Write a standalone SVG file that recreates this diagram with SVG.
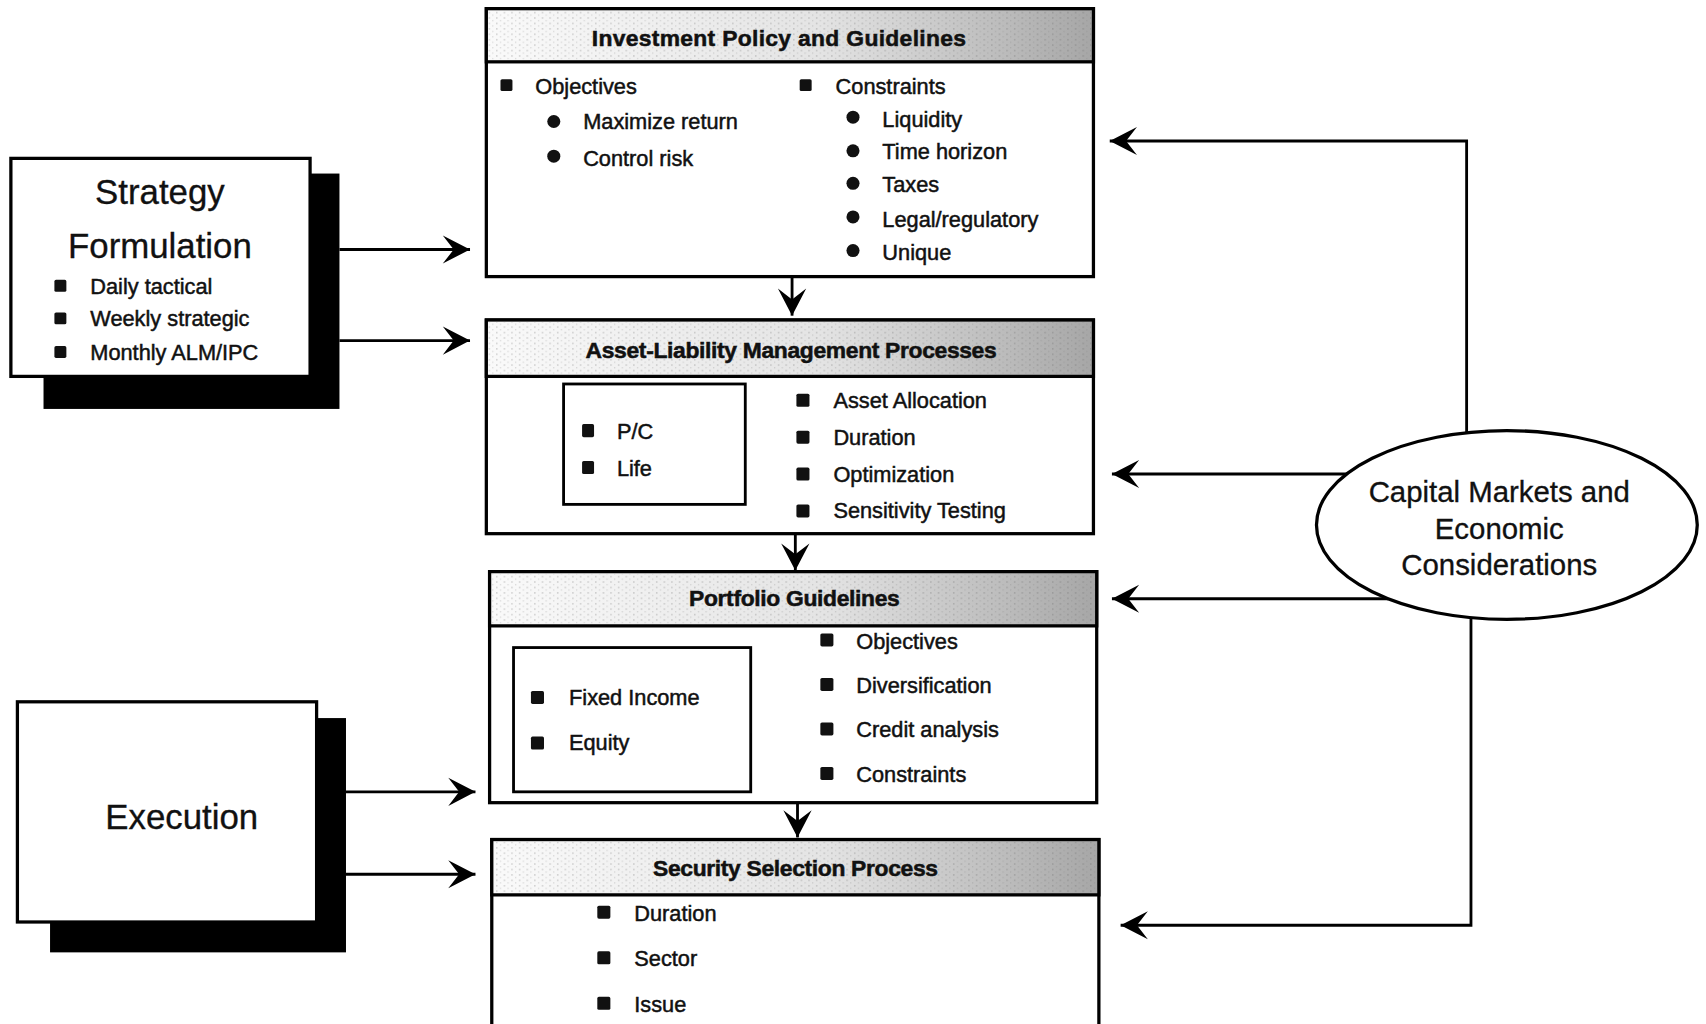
<svg xmlns="http://www.w3.org/2000/svg" width="1706" height="1024" viewBox="0 0 1706 1024">
<style>
.box{fill:#fff;stroke:#000;stroke-width:3}
.shadow{fill:#000}
.hdr{fill:url(#hg);stroke:#000;stroke-width:3}
.hdrdots{fill:url(#dots)}
.t{font-family:"Liberation Sans",Arial,sans-serif;font-size:20px;fill:#111;stroke:#111;stroke-width:0.45;dominant-baseline:central}
.big{font-family:"Liberation Sans",Arial,sans-serif;font-size:32px;fill:#111;stroke:#111;stroke-width:0.3;dominant-baseline:central;text-anchor:middle}
.ht{font-family:"Liberation Sans",Arial,sans-serif;font-size:21px;font-weight:bold;fill:#111;stroke:#111;stroke-width:0.5;dominant-baseline:central;text-anchor:middle;letter-spacing:-0.3px}
.cap{font-family:"Liberation Sans",Arial,sans-serif;font-size:27px;fill:#111;stroke:#111;stroke-width:0.3;dominant-baseline:central;text-anchor:middle}
.sq{fill:#111}
.dot{fill:#111}
.conn{fill:none;stroke:#000;stroke-width:2.6}
</style>
<defs>
<linearGradient id="hg" x1="0" y1="0" x2="1" y2="0">
<stop offset="0" stop-color="#fafafa"/>
<stop offset="0.55" stop-color="#e4e4e4"/>
<stop offset="0.85" stop-color="#bcbcbc"/>
<stop offset="1" stop-color="#a6a6a6"/>
</linearGradient>
<pattern id="dots" width="7" height="5" patternUnits="userSpaceOnUse">
<rect x="1" y="1" width="1.2" height="1.2" fill="#555"/>
<rect x="4.5" y="3.5" width="1" height="1" fill="#777"/>
</pattern>
<marker id="ah" viewBox="-26 -14 28 28" refX="0" refY="0" markerWidth="28" markerHeight="28" markerUnits="userSpaceOnUse" orient="auto">
<path d="M0,0 L-25,-13 L-15,0 L-25,13 Z" fill="#000"/>
</marker>
</defs>
<g transform="scale(1.088,1.0847)">
<g id="connectors">
<path id="c-strat-ipg" class="conn" d="M312,230 H432" marker-end="url(#ah)"/>
<path id="c-strat-alm" class="conn" d="M312,314 H432" marker-end="url(#ah)"/>
<path id="c-exec-pg" class="conn" d="M318,730 H437" marker-end="url(#ah)"/>
<path id="c-exec-ssp" class="conn" d="M318,806 H437" marker-end="url(#ah)"/>
<path id="c-ipg-alm" class="conn" d="M728,256 V291" marker-end="url(#ah)"/>
<path id="c-alm-pg" class="conn" d="M731,493 V526" marker-end="url(#ah)"/>
<path id="c-pg-ssp" class="conn" d="M733,741 V772" marker-end="url(#ah)"/>
<path id="c-cap-ipg" class="conn" d="M1348,400 V130 H1020" marker-end="url(#ah)"/>
<path id="c-cap-alm" class="conn" d="M1240,437 H1022" marker-end="url(#ah)"/>
<path id="c-cap-pg" class="conn" d="M1276,552 H1022" marker-end="url(#ah)"/>
<path id="c-cap-ssp" class="conn" d="M1352,570 V853 H1030" marker-end="url(#ah)"/>
</g>

<g id="strategy">
<rect class="shadow" x="40" y="160" width="272" height="217"/>
<rect class="box" x="10" y="146" width="275" height="201"/>
<text class="big" x="147" y="177">Strategy</text>
<text class="big" x="147" y="227">Formulation</text>
<rect class="sq" x="50" y="258" width="11" height="11" rx="1.5"/>
<text class="t" x="83" y="264">Daily tactical</text>
<rect class="sq" x="50" y="288" width="11" height="11" rx="1.5"/>
<text class="t" x="83" y="294">Weekly strategic</text>
<rect class="sq" x="50" y="319" width="11" height="11" rx="1.5"/>
<text class="t" x="83" y="325">Monthly ALM/IPC</text>
</g>

<g id="execution">
<rect class="shadow" x="46" y="662" width="272" height="216"/>
<rect class="box" x="16" y="647" width="275" height="203"/>
<text class="big" x="167" y="753">Execution</text>
</g>

<g id="ipg">
<rect class="box" x="447" y="8" width="558" height="247"/>
<rect class="hdr" x="447" y="8" width="558" height="49"/>
<rect class="hdrdots" x="449" y="10" width="554" height="45" opacity="0.35"/>
<text class="ht" x="716" y="35" style="letter-spacing:0.3px">Investment Policy and Guidelines</text>
<rect class="sq" x="460" y="73" width="11" height="11" rx="1.5"/>
<text class="t" x="492" y="80">Objectives</text>
<circle class="dot" cx="509" cy="112" r="6"/>
<text class="t" x="536" y="112">Maximize return</text>
<circle class="dot" cx="509" cy="144" r="6"/>
<text class="t" x="536" y="146">Control risk</text>
<rect class="sq" x="735" y="73" width="11" height="11" rx="1.5"/>
<text class="t" x="768" y="80">Constraints</text>
<circle class="dot" cx="784" cy="108" r="6"/>
<text class="t" x="811" y="110">Liquidity</text>
<circle class="dot" cx="784" cy="139" r="6"/>
<text class="t" x="811" y="140">Time horizon</text>
<circle class="dot" cx="784" cy="169" r="6"/>
<text class="t" x="811" y="170">Taxes</text>
<circle class="dot" cx="784" cy="200" r="6"/>
<text class="t" x="811" y="202">Legal/regulatory</text>
<circle class="dot" cx="784" cy="231" r="6"/>
<text class="t" x="811" y="233">Unique</text>
</g>

<g id="alm">
<rect class="box" x="447" y="295" width="558" height="197"/>
<rect class="hdr" x="447" y="295" width="558" height="52"/>
<rect class="hdrdots" x="449" y="297" width="554" height="48" opacity="0.35"/>
<text class="ht" x="727" y="323">Asset-Liability Management Processes</text>
<rect class="box" x="518" y="354" width="167" height="111" style="stroke-width:2.6"/>
<rect class="sq" x="535" y="391" width="11" height="12" rx="1.5"/>
<text class="t" x="567" y="398">P/C</text>
<rect class="sq" x="535" y="425" width="11" height="12" rx="1.5"/>
<text class="t" x="567" y="432">Life</text>
<rect class="sq" x="732" y="363" width="12" height="12" rx="1.5"/>
<text class="t" x="766" y="369">Asset Allocation</text>
<rect class="sq" x="732" y="397" width="12" height="12" rx="1.5"/>
<text class="t" x="766" y="403">Duration</text>
<rect class="sq" x="732" y="431" width="12" height="12" rx="1.5"/>
<text class="t" x="766" y="437">Optimization</text>
<rect class="sq" x="732" y="465" width="12" height="12" rx="1.5"/>
<text class="t" x="766" y="471">Sensitivity Testing</text>
</g>

<g id="pg">
<rect class="box" x="450" y="527" width="558" height="213"/>
<rect class="hdr" x="450" y="527" width="558" height="50"/>
<rect class="hdrdots" x="452" y="529" width="554" height="46" opacity="0.35"/>
<text class="ht" x="730" y="551">Portfolio Guidelines</text>
<rect class="box" x="472" y="597" width="218" height="133" style="stroke-width:2.6"/>
<rect class="sq" x="488" y="637" width="12" height="12" rx="1.5"/>
<text class="t" x="523" y="643">Fixed Income</text>
<rect class="sq" x="488" y="679" width="12" height="12" rx="1.5"/>
<text class="t" x="523" y="685">Equity</text>
<rect class="sq" x="754" y="584" width="12" height="12" rx="1.5"/>
<text class="t" x="787" y="591">Objectives</text>
<rect class="sq" x="754" y="625" width="12" height="12" rx="1.5"/>
<text class="t" x="787" y="632">Diversification</text>
<rect class="sq" x="754" y="666" width="12" height="12" rx="1.5"/>
<text class="t" x="787" y="673">Credit analysis</text>
<rect class="sq" x="754" y="707" width="12" height="12" rx="1.5"/>
<text class="t" x="787" y="714">Constraints</text>
</g>

<g id="ssp">
<rect class="box" x="452" y="774" width="558" height="190"/>
<rect class="hdr" x="452" y="774" width="558" height="51"/>
<rect class="hdrdots" x="454" y="776" width="554" height="47" opacity="0.35"/>
<text class="ht" x="731" y="800">Security Selection Process</text>
<rect class="sq" x="549" y="835" width="12" height="12" rx="1.5"/>
<text class="t" x="583" y="842">Duration</text>
<rect class="sq" x="549" y="877" width="12" height="12" rx="1.5"/>
<text class="t" x="583" y="884">Sector</text>
<rect class="sq" x="549" y="919" width="12" height="12" rx="1.5"/>
<text class="t" x="583" y="926">Issue</text>
</g>

<g id="capital">
<ellipse class="box" cx="1385" cy="484" rx="175" ry="87"/>
<text class="cap" x="1378" y="453">Capital Markets and</text>
<text class="cap" x="1378" y="487">Economic</text>
<text class="cap" x="1378" y="520">Considerations</text>
</g>
</g>
</svg>
